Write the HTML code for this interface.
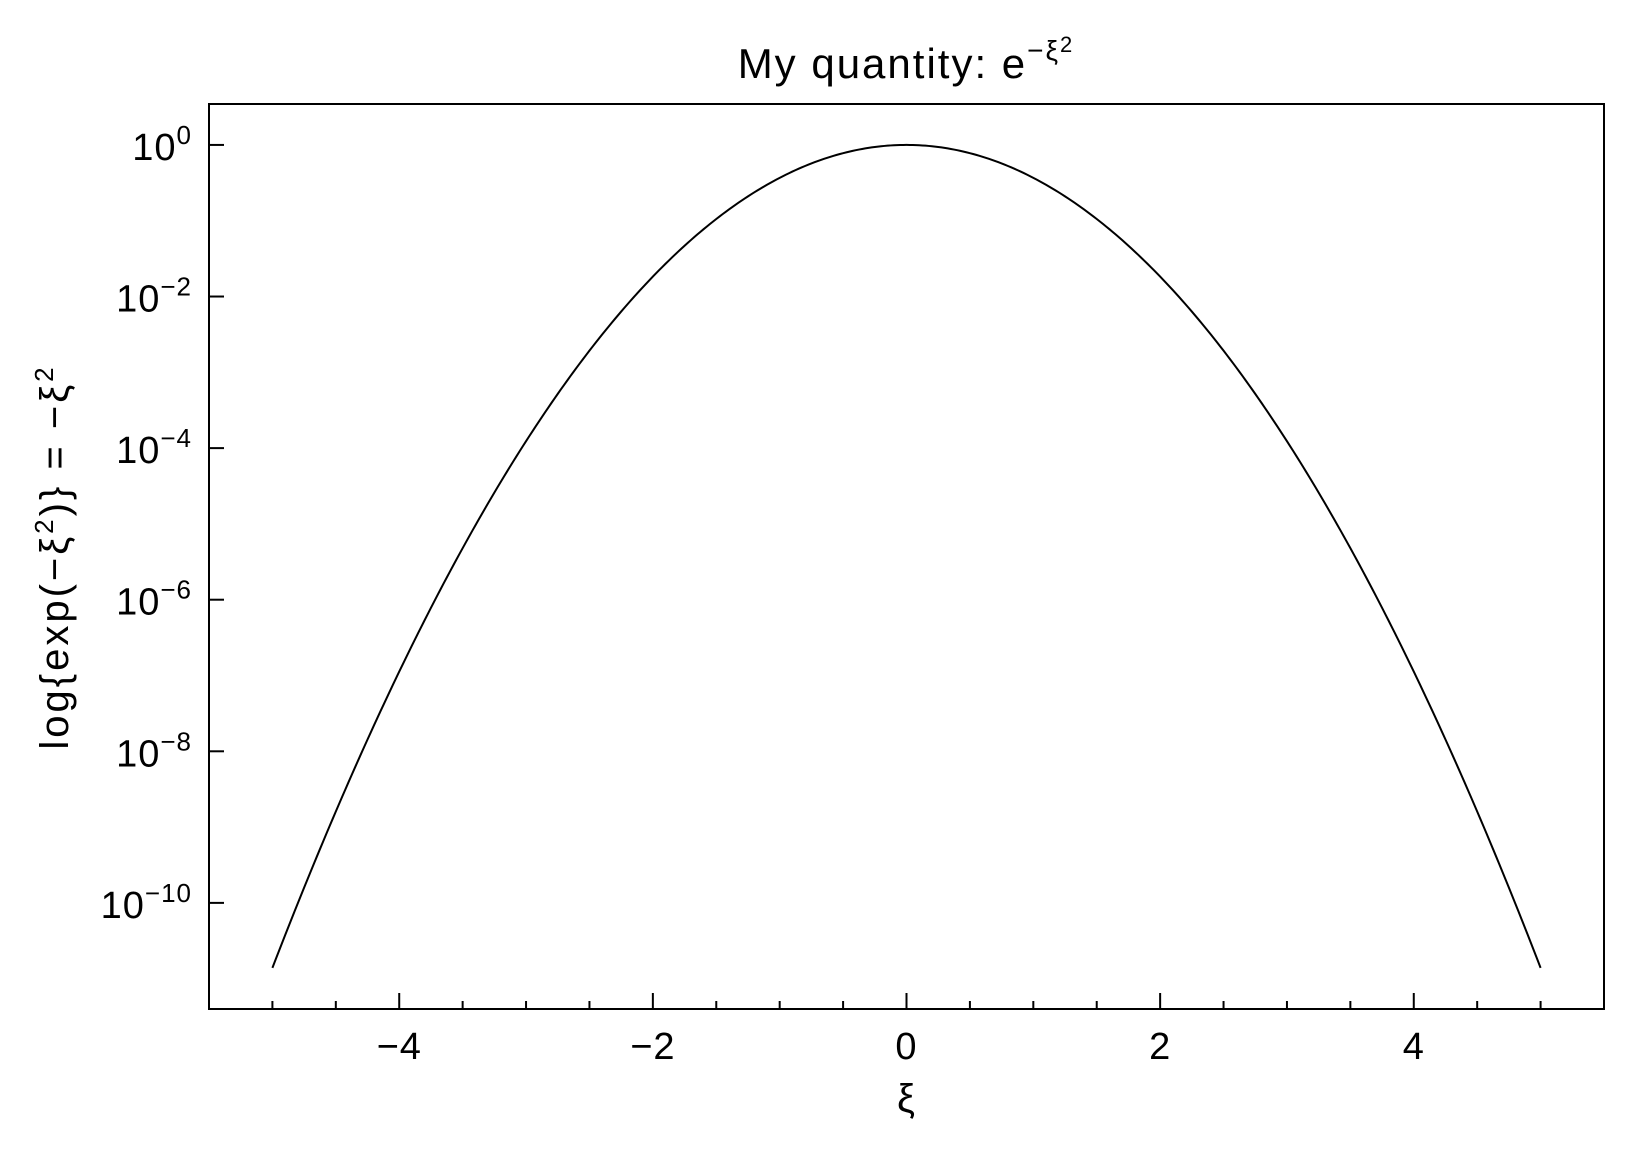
<!DOCTYPE html>
<html><head><meta charset="utf-8"><style>
html,body{margin:0;padding:0;background:#fff;}
svg text{font-family:"Liberation Sans",sans-serif;fill:#000;font-weight:300;}
</style></head><body>
<svg id="chart" width="1633" height="1152" viewBox="0 0 1633 1152" xmlns="http://www.w3.org/2000/svg">
<rect width="1633" height="1152" fill="#fff"/>
<text x="906" y="78" font-size="42" letter-spacing="2" text-anchor="middle">My quantity: e<tspan dy="-18" font-size="28">−ξ</tspan><tspan dy="-8" font-size="22">2</tspan></text>
<rect x="209" y="104" width="1395" height="905" fill="none" stroke="#000" stroke-width="2"/>
<g id="xticks"></g>
<g id="yticks"></g>
<path id="curve" fill="none" stroke="#000" stroke-width="2"/>
<text x="906" y="1112" font-size="40" text-anchor="middle">ξ</text>
<text transform="translate(68,557) rotate(-90)" font-size="40" letter-spacing="3" text-anchor="middle">log{exp(−ξ<tspan dy="-15" font-size="26">2</tspan><tspan dy="15">)} = −ξ</tspan><tspan dy="-15" font-size="26">2</tspan></text>
</svg>
<script>
const xMajorTicks=[-4,-2,0,2,4];
const xMinorTicks=[-5,-4.5,-3.5,-3,-2.5,-1.5,-1,-0.5,0.5,1,1.5,2.5,3,3.5,4.5,5];
const yTickExps=[0,-2,-4,-6,-8,-10];
const xValues=[-5,-4.5,-4,-3.5,-3,-2.5,-2,-1.5,-1,-0.5,0,0.5,1,1.5,2,2.5,3,3.5,4,4.5,5];
const NS="http://www.w3.org/2000/svg";
const L=209,R=1604,T=104,B=1009,xmin=-5.5,xmax=5.5,ymax=0.54,ymin=-11.4;
function sx(v){return L+(v-xmin)/(xmax-xmin)*(R-L);}
function sy(lg){return T+(ymax-lg)/(ymax-ymin)*(B-T);}
function mk(tag,attrs,parent){const e=document.createElementNS(NS,tag);for(const k in attrs)e.setAttribute(k,attrs[k]);parent.appendChild(e);return e;}
const xg=document.getElementById('xticks'),yg=document.getElementById('yticks');
xMajorTicks.forEach(v=>{
  const t=mk('line',{x1:sx(v),x2:sx(v),y1:B,y2:B-16,stroke:'#000','stroke-width':2},xg);
  
  
  const lb=mk('text',{x:sx(v),y:B+50,'font-size':38,'letter-spacing':1,'text-anchor':'middle'},xg);
  lb.textContent=v<0?'−'+Math.abs(v):String(v);
  
  
});
xMinorTicks.forEach(v=>{
  const t=mk('line',{x1:sx(v),x2:sx(v),y1:B,y2:B-8,stroke:'#000','stroke-width':2},xg);
  
  
});
yTickExps.forEach(e=>{
  const y=sy(e);
  const t=mk('line',{x1:L,x2:L+15,y1:y,y2:y,stroke:'#000','stroke-width':2},yg);
  
  
  const lb=mk('text',{x:192,y:y+15,'font-size':38,'letter-spacing':1,'text-anchor':'end'},yg);
  lb.innerHTML='10<tspan dy="-16" font-size="26">'+(e<0?'−'+Math.abs(e):e)+'</tspan>';
  
  
});
let d='';const N=400,x0=xValues[0],x1=xValues[xValues.length-1];
for(let i=0;i<=N;i++){const x=x0+(x1-x0)*i/N;const lg=-x*x/Math.LN10;d+=(i?'L':'M')+sx(x).toFixed(2)+','+sy(lg).toFixed(2);}
document.getElementById('curve').setAttribute('d',d);
</script>
</body></html>
